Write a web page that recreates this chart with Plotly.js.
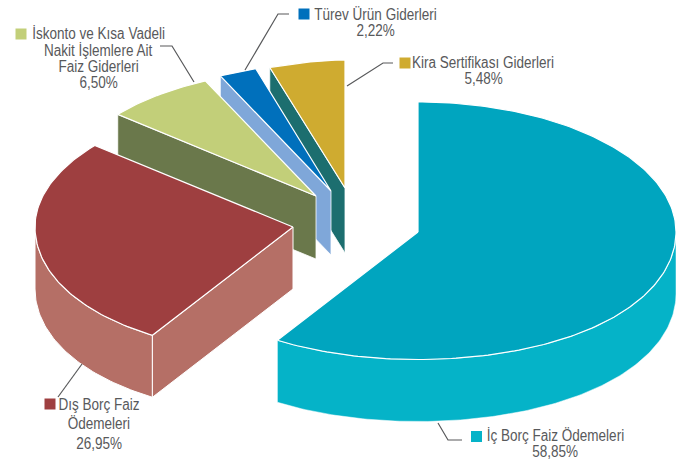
<!DOCTYPE html>
<html><head><meta charset="utf-8">
<script src="https://cdn.plot.ly/plotly-3.0.1.min.js"></script>
<style>html,body{margin:0;padding:0;background:#fff}</style></head>
<body><div id="chart" style="width:687px;height:461px"></div>
<script>
// Data
const categories = ["İç Borç Faiz Ödemeleri","Dış Borç Faiz Ödemeleri","İskonto ve Kısa Vadeli Nakit İşlemlere Ait Faiz Giderleri","Türev Ürün Giderleri","Kira Sertifikası Giderleri"];
const values = [58.85,26.95,6.50,2.22,5.48];
const labelLines = [
  ["İç Borç Faiz Ödemeleri","58,85%"],
  ["Dış Borç Faiz","Ödemeleri","26,95%"],
  ["İskonto ve Kısa Vadeli","Nakit İşlemlere Ait","Faiz Giderleri","6,50%"],
  ["Türev Ürün Giderleri","2,22%"],
  ["Kira Sertifikası Giderleri","5,48%"]
];
const topColors  = ["#00a5bf","#9e3f40","#c2cf79","#0070bc","#cfab30"];
const sideColors = ["#05b3c8","#b56f66","#6a784b","#7fa7d9","#1c6e6f"];
// Style / layout of the exploded tilted pie
const apexX = [418,293,316,331,345];
const apexY = [232,227,196,191,188];
const RX=258, RY_FRONT=127.5;
const RY_BACK=[130,130,130,130,128];
const DEPTHS=[62,62,63,64,65];
const labelX = [555,99,98,375,483];
const labelY = [435,404,33,14,62];
const leading = [16,19.5,16.5,16,16];
const keyX = [476.5,50,21,304,405];
const keyY = [436.5,404,34,14,63];
const leaderX = [[438,448,462],[58,82],[160,172,194],[289,278,245],[393,383,347]];
const leaderY = [[423,440,440],[397,364],[46,46,82],[14,14,70],[63,63,86]];
const TEXT_SQUEEZE=0.845;

const pt = (i,deg)=>{
  const r=deg*Math.PI/180, c=Math.cos(r), s=Math.sin(r);
  const u=Math.max(0,c), v=Math.max(0,-c);
  let f=1+0.045*v*v;
  if(i>0) f-=0.03*u*u+0.22*Math.pow(u,11.5);
  return [apexX[i]+RX*s*f, apexY[i]-(c>0?RY_BACK[i]:RY_FRONT)*c];
};
const arc=(i,a,b)=>{const o=[];const n=Math.max(2,Math.ceil(Math.abs(b-a)));for(let k=0;k<=n;k++)o.push(pt(i,a+(b-a)*k/n));return o;};
const traces=[];
const poly=(p,fill,lw)=>traces.push({type:'scatter',mode:'lines',x:p.map(q=>q[0]),y:p.map(q=>q[1]),fill:'toself',fillcolor:fill,line:{color:'#fff',width:lw},hoverinfo:'skip',showlegend:false});
let acc=0; const starts=[],ends=[];
values.forEach(v=>{starts.push(acc*3.6);acc+=v;ends.push(acc*3.6);});
const apexOf=i=>[apexX[i],apexY[i]];
const down=(p,i)=>p.map(q=>[q[0],q[1]+DEPTHS[i]]);
const sideFace=(i,deg)=>{const e=pt(i,deg),a=apexOf(i);return [a,e,[e[0],e[1]+DEPTHS[i]],[a[0],a[1]+DEPTHS[i]],a];};
const topFace=i=>[apexOf(i),...arc(i,starts[i],ends[i]),apexOf(i)];
// painter's order: back slices first
[4,3,2].forEach(i=>{poly(sideFace(i,starts[i]),sideColors[i],0.8);poly(topFace(i),topColors[i],1.2);});
// red
{const rim=arc(1,starts[1],270);poly([...rim,...down(rim,1).reverse(),rim[0]],sideColors[1],1);
 poly(sideFace(1,starts[1]),sideColors[1],1); poly(topFace(1),topColors[1],1.2);}
// main
{const rim=arc(0,90,ends[0]);poly([...rim,...down(rim,0).reverse(),rim[0]],sideColors[0],0.5); poly(topFace(0),topColors[0],1.2);}
// leaders
leaderX.forEach((lx,i)=>traces.push({type:'scatter',mode:'lines',x:lx,y:leaderY[i],line:{color:'#58595b',width:1.2},hoverinfo:'skip',showlegend:false}));
// keys
traces.push({type:'scatter',mode:'markers',x:keyX,y:keyY,marker:{symbol:'square',size:11,color:topColors.map((c,i)=>i==0?sideColors[0]:c)},hoverinfo:'skip',showlegend:false});
const annotations=[];
labelLines.forEach((ls,i)=>ls.forEach((t,k)=>annotations.push({xref:'x',yref:'y',x:labelX[i],y:labelY[i]+k*leading[i],text:t,showarrow:false,xanchor:'center',yanchor:'middle',font:{family:'"Liberation Sans",sans-serif',size:16,color:'#58595b'}})));
Plotly.newPlot('chart',traces,{
  width:687,height:461,margin:{l:0,r:0,t:0,b:0},paper_bgcolor:'#fff',plot_bgcolor:'#fff',showlegend:false,
  xaxis:{range:[0,687],visible:false,fixedrange:true},
  yaxis:{range:[461,0],visible:false,fixedrange:true},
  annotations
},{staticPlot:true,displayModeBar:false}).then(gd=>{
  // the reference uses a condensed face: narrow the real text in place
  gd.querySelectorAll('.annotation-text').forEach(t=>{
    const w=t.getComputedTextLength(), bb=t.getBBox(), cx=bb.x+bb.width/2;
    t.setAttribute('textLength',(w*TEXT_SQUEEZE).toFixed(1));
    t.setAttribute('lengthAdjust','spacingAndGlyphs');
    const bb2=t.getBBox();
    const x=parseFloat(t.getAttribute('x'))||0;
    t.setAttribute('x',(x+(cx-(bb2.x+bb2.width/2))).toFixed(1));
  });
});
</script></body></html>
